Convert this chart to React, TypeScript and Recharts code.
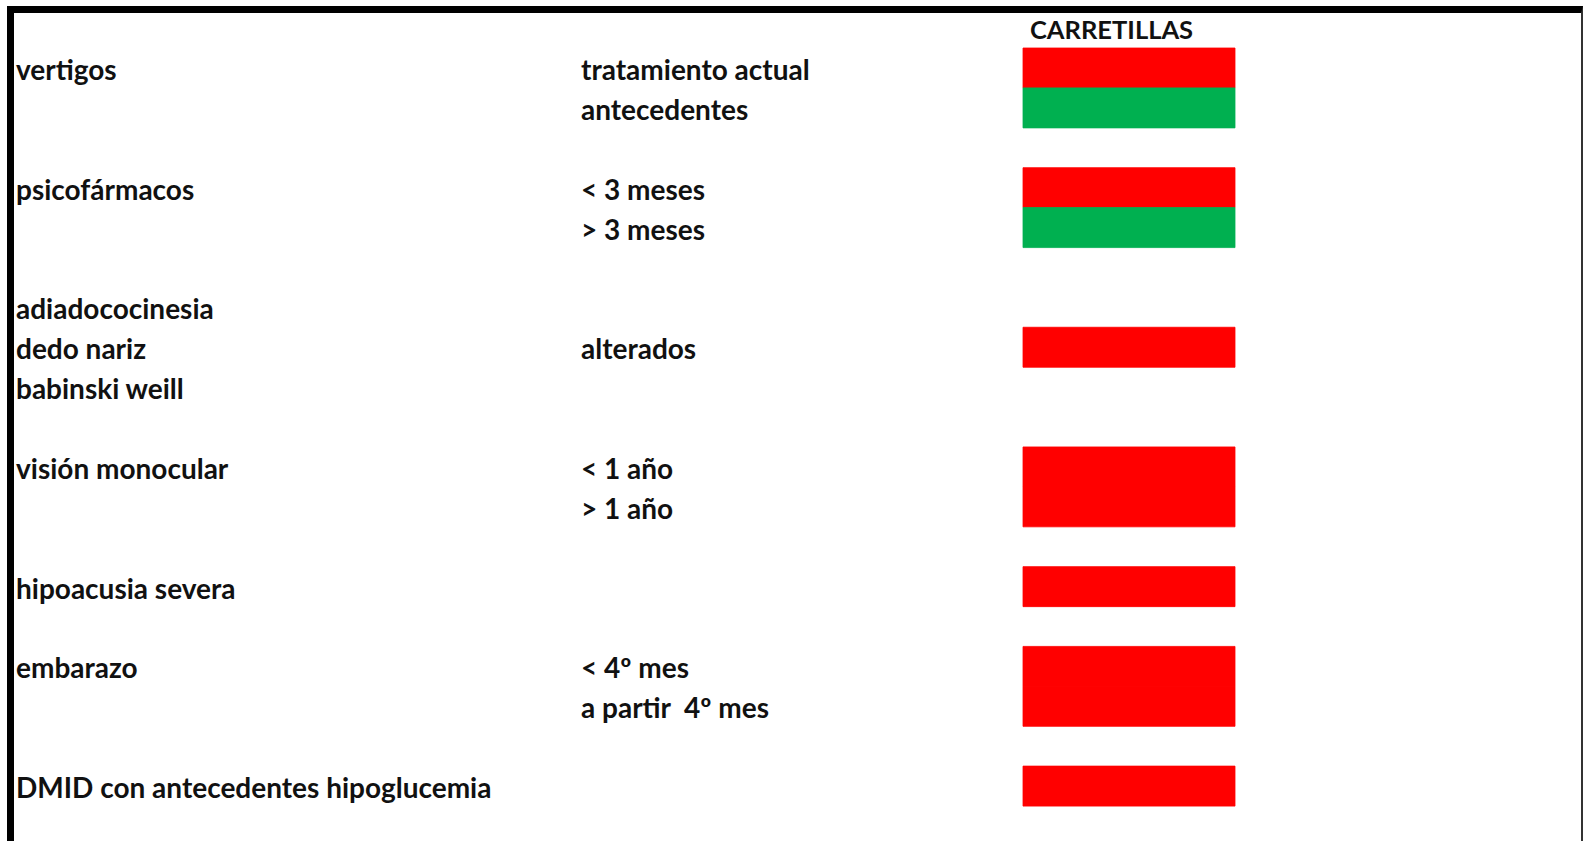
import React from 'react';
import { BarChart, Bar, Cell, XAxis, YAxis } from 'recharts';

// one entry per spreadsheet row, top to bottom
const rowIds = ['r0', 'r1', 'r2', 'r3', 'r4', 'r5', 'r6', 'r7', 'r8', 'r9', 'r10', 'r11', 'r12', 'r13', 'r14', 'r15', 'r16', 'r17', 'r18'];

const conditionLabels = [
  'vertigos', '', '',
  'psicofármacos', '', '',
  'adiadococinesia', 'dedo nariz', 'babinski weill', '',
  'visión monocular', '', '',
  'hipoacusia severa', '',
  'embarazo', '', '',
  'DMID con antecedentes hipoglucemia',
];

const detailLabels = [
  'tratamiento actual', 'antecedentes', '',
  '< 3 meses', '> 3 meses', '',
  '', 'alterados', '', '',
  '< 1 año', '> 1 año', '',
  '', '',
  '< 4º mes', 'a partir  4º mes', '',
  '',
];

// 'no' = not apt (red), 'si' = apt (green), '' = empty row
const carretillas = [
  'no', 'si', '',
  'no', 'si', '',
  '', 'no', '', '',
  'no', 'no', '',
  'no', '',
  'no', 'no', '',
  'no',
];

const STATUS_COLORS: Record<string, string> = { no: '#FF0000', si: '#00B050' };

const data = rowIds.map((row, i) => ({
  row,
  value: carretillas[i] ? 1 : 0,
  status: carretillas[i],
}));

const FONT = 'Lato, "Open Sans", sans-serif';

const RowTick = (props: any) => {
  const { y, index } = props;
  return (
    <g>
      <text x={16} y={y + 1} dominantBaseline="central" fontFamily={FONT} fontWeight={700} fontSize={28} fill="#111">
        {conditionLabels[index]}
      </text>
      <text x={581} y={y + 1} dominantBaseline="central" fontFamily={FONT} fontWeight={700} fontSize={28} fill="#111" style={{ whiteSpace: 'pre' }}>
        {detailLabels[index]}
      </text>
    </g>
  );
};

const HeaderLabel = (props: any) => {
  const { viewBox } = props;
  return (
    <text x={viewBox.x + 7} y={viewBox.y + viewBox.height / 2 + 1} dominantBaseline="central" fontFamily={FONT} fontWeight={700} fontSize={25.5} fill="#111">
      CARRETILLAS
    </text>
  );
};

export default function App() {
  return (
    <div style={{ position: 'absolute', left: 0, top: 0, width: 1583, height: 841, background: '#fff' }}>
      <div
        style={{
          position: 'absolute',
          left: 7,
          top: 6,
          width: 1583 - 7 - 7 - 2,
          height: 841,
          borderTop: '7px solid #000',
          borderLeft: '7px solid #000',
          borderRight: '2px solid #333',
        }}
      />
      <BarChart
        width={1583}
        height={841}
        data={data}
        layout="vertical"
        margin={{ top: 8, right: 348, bottom: 35, left: 0 }}
        barCategoryGap={0}
        style={{ position: 'absolute', left: 0, top: 0 }}
      >
        <XAxis
          type="number"
          domain={[0, 1]}
          orientation="top"
          height={40}
          axisLine={false}
          tickLine={false}
          tick={false}
          label={<HeaderLabel />}
        />
        <YAxis
          type="category"
          dataKey="row"
          width={1023}
          axisLine={false}
          tickLine={false}
          interval={0}
          tick={<RowTick />}
        />
        <Bar dataKey="value" isAnimationActive={false}>
          {data.map((d, i) => {
            const c = STATUS_COLORS[d.status] || 'transparent';
            return <Cell key={`cell-${i}`} fill={c} stroke={c} strokeWidth={0.8} />;
          })}
        </Bar>
      </BarChart>
    </div>
  );
}
